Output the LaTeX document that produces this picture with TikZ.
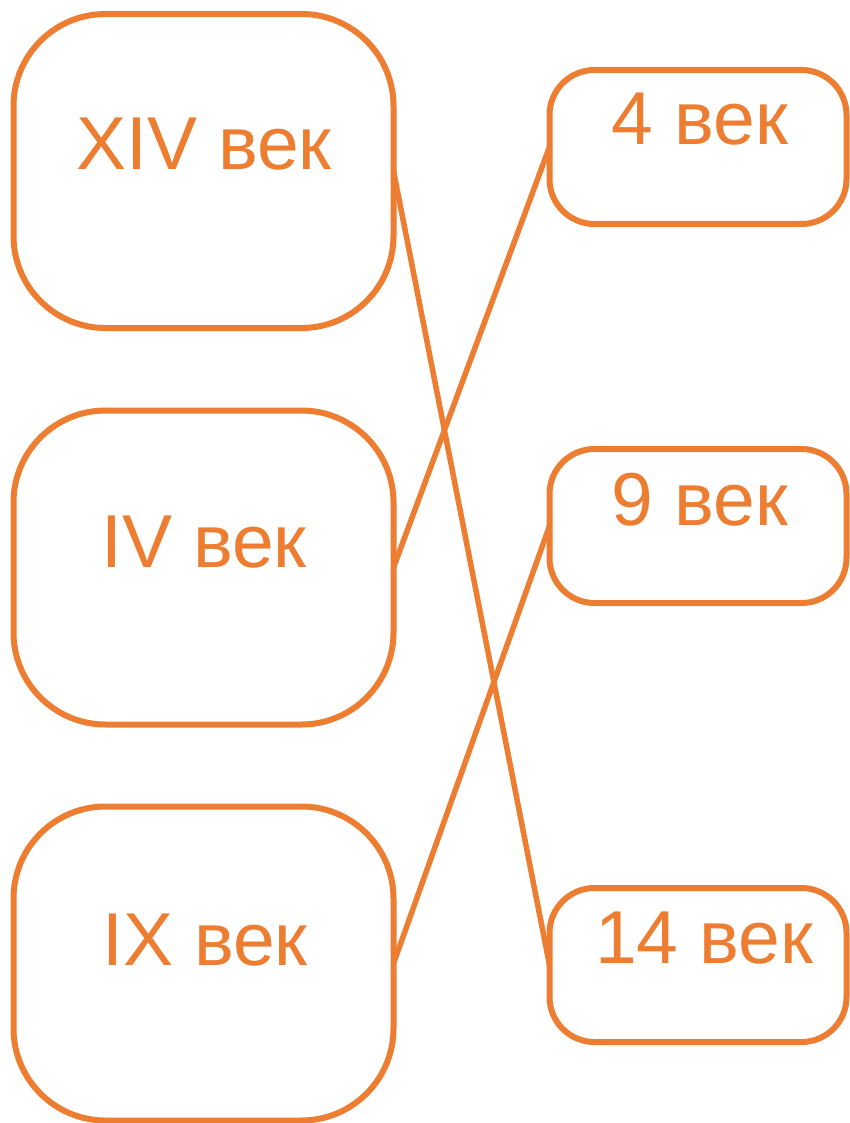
\documentclass[tikz,border=0pt]{standalone}
\usepackage{fontspec}
\setmainfont{Liberation Sans}
\definecolor{accent}{RGB}{237,125,49}
\tikzset{
  bigbox/.style={draw=accent, line width=6pt, rounded corners=92pt, minimum width=380pt, minimum height=314pt, inner sep=0pt, outer sep=0pt},
  smallbox/.style={draw=accent, line width=6pt, rounded corners=45pt, minimum width=297pt, minimum height=154pt, inner sep=0pt, outer sep=0pt},
  lbl/.style={text=accent, font=\fontsize{75}{80}\selectfont, anchor=base, inner sep=0pt},
  conn/.style={draw=accent, line width=5.5pt},
}
\begin{document}
\begin{tikzpicture}[x=1pt, y=-1pt]
\useasboundingbox (0,0) rectangle (849,1123);
\node[bigbox] (b1) at (203.5,171) {};
\node[bigbox] (b2) at (203.5,567.5) {};
\node[bigbox] (b3) at (203.5,963.5) {};
\node[smallbox] (r4) at (698,147) {};
\node[smallbox] (r9) at (698,526) {};
\node[smallbox] (r14) at (698,965) {};
\node[lbl] (t1) at (204,170) {XIV век};
\node[lbl] (t2) at (204,567) {IV век};
\node[lbl] (t3) at (205,965) {IX век};
\node[lbl] (t4) at (700,145) {4 век};
\node[lbl] (t9) at (700,525) {9 век};
\node[lbl] (t14) at (704,963) {14 век};
\draw[conn] (b1.east) -- (r14.west);
\draw[conn] (b2.east) -- (r4.west);
\draw[conn] (b3.east) -- (r9.west);
\end{tikzpicture}
\end{document}
